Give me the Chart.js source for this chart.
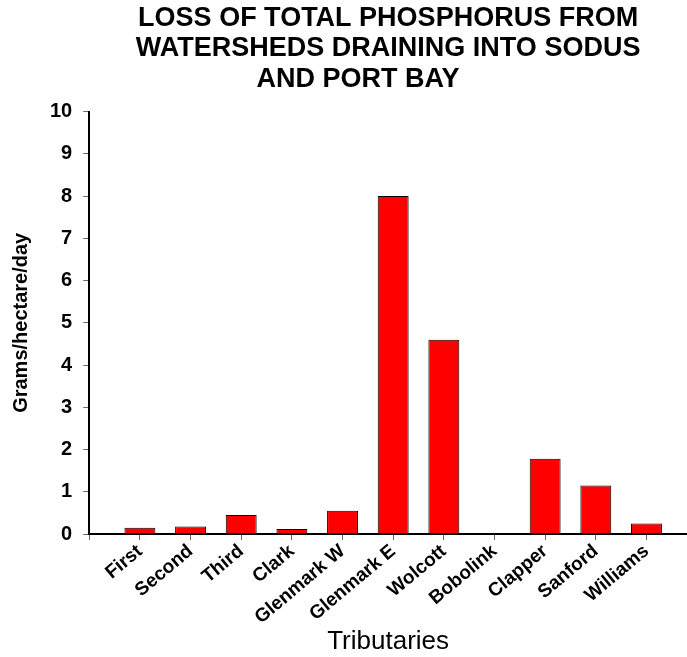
<!DOCTYPE html>
<html>
<head>
<meta charset="utf-8">
<script src="https://cdn.jsdelivr.net/npm/chart.js@4"></script>
<style>
  html, body { margin: 0; padding: 0; background: #fff; }
  #wrap { width: 687px; height: 657px; }
</style>
</head>
<body>
<div id="wrap"><canvas id="lossChart"></canvas></div>
<script>
const tributaries = ['First', 'Second', 'Third', 'Clark', 'Glenmark W', 'Glenmark E',
    'Wolcott', 'Bobolink', 'Clapper', 'Sanford', 'Williams'];
const phosphorusLoss = [0.15, 0.18, 0.45, 0.12, 0.55, 8.0, 4.6, 0, 1.78, 1.15, 0.25];
const titleLines = ['LOSS OF TOTAL PHOSPHORUS FROM', 'WATERSHEDS DRAINING INTO SODUS', 'AND PORT BAY        '];

const font = 'Arial, "Liberation Sans", sans-serif';

// bars placed on a numeric axis so the first category sits one step in from the y axis
const points = tributaries.map((name, i) => ({ x: i, y: phosphorusLoss[i] }));

const ctx = document.getElementById('lossChart').getContext('2d');
new Chart(ctx, {
    type: 'bar',
    data: {
        datasets: [{
            data: points,
            backgroundColor: '#ff0000',
            borderColor: '#000000',
            borderWidth: 1,
            categoryPercentage: 1.0,
            barPercentage: 0.61
        }]
    },
    options: {
        responsive: true,
        maintainAspectRatio: false,
        animation: false,
        layout: { padding: { top: 0, right: 0, left: 5, bottom: 0 } },
        plugins: {
            legend: { display: false },
            tooltip: { enabled: false },
            title: {
                display: true,
                fullSize: false,
                text: titleLines,
                color: '#000',
                font: { family: font, size: 27, weight: 'bold', lineHeight: 1.13 },
                padding: { top: 3, bottom: 17 }
            }
        },
        scales: {
            x: {
                type: 'linear',
                min: -1,
                max: 10.8,
                offset: false,
                afterBuildTicks: (scale) => {
                    scale.ticks = scale.ticks.filter(t => Number.isInteger(t.value));
                },
                grid: {
                    display: true,
                    drawOnChartArea: false,
                    drawTicks: true,
                    tickLength: 6,
                    color: '#666',
                    offset: false
                },
                border: { display: true, color: '#000', width: 2 },
                ticks: {
                    stepSize: 1,
                    color: '#000',
                    minRotation: 40,
                    maxRotation: 40,
                    padding: 0,
                    autoSkip: false,
                    font: { family: font, size: 19, weight: 'bold' },
                    callback: (v) => tributaries[v] ?? ''
                },
                title: {
                    display: true,
                    text: 'Tributaries',
                    color: '#000',
                    padding: { top: -3, bottom: 0 },
                    font: { family: font, size: 26 }
                }
            },
            y: {
                min: 0,
                max: 10,
                grid: {
                    display: true,
                    drawOnChartArea: false,
                    drawTicks: true,
                    tickLength: 6,
                    color: '#666'
                },
                border: { display: true, color: '#000', width: 2 },
                ticks: {
                    stepSize: 1,
                    color: '#000',
                    padding: 11,
                    font: { family: font, size: 20, weight: 'bold' }
                },
                title: {
                    display: true,
                    text: 'Grams/hectare/day',
                    color: '#000',
                    padding: { bottom: 6 },
                    font: { family: font, size: 20, weight: 'bold' }
                }
            }
        }
    }
});
</script>
</body>
</html>
